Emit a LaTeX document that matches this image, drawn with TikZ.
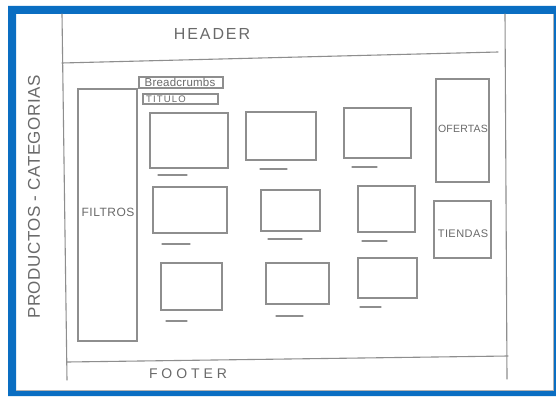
\documentclass[tikz,border=0pt]{standalone}
\usepackage{fontspec}
\newfontfamily\pencilfont{Liberation Sans}
\usetikzlibrary{fit}
\definecolor{frameblue}{HTML}{0A6EC2}
\definecolor{pencilgray}{HTML}{8E8E8E}
\definecolor{leadgray}{HTML}{6A6A6A}
\newcommand\handfont[2]{\pencilfont\fontsize{#1}{#1}\selectfont\addfontfeature{LetterSpace=#2}}

\begin{document}
\begin{tikzpicture}[
  x=1pt, y=-1pt,
  pencil/.style={draw=pencilgray, line width=1.1pt, line cap=round},
  panel/.style={pencil, rectangle, inner sep=0pt},
  thumb/.style={panel},
  hand/.style={text=leadgray, inner sep=0pt}
]
\useasboundingbox (0,0) rectangle (556,396);
\fill[white] (0,0) rectangle (556,396);

% blue frame
\fill[frameblue, even odd rule] (8,6) rectangle (556,396) (16,14) rectangle (553,391);
\draw[black!30, line width=0.8pt] (553,14) -- (553,390.6) -- (16,390.6);

% page outline
\draw[pencil] (62,14) -- (67,380);
\draw[pencil] (505,14) -- (507,379);
\draw[pencil] (62,63) -- (498,52);
\draw[pencil] (67,362) -- (508,356);

\node[hand, font=\handfont{16}{12}] (header) at (212,34) {HEADER};
\node[hand, font=\handfont{14}{28}] (footer) at (188,374) {FOOTER};
\node[hand, font=\handfont{17}{3}, rotate=90] (categorias) at (34,197) {PRODUCTOS - CATEGORIAS};

% side panels
\node[panel, fit={(78,89) (137,341)}] (filtros) {};
\node[panel, fit={(436,79) (489,182)}] (ofertas) {};
\node[panel, fit={(434,201) (491,258)}] (tiendas) {};
\node[hand, font=\handfont{12}{4}] (filtros-txt) at (108,212) {FILTROS};
\node[hand, font=\handfont{10.5}{2}] (ofertas-txt) at (463,129) {OFERTAS};
\node[hand, font=\handfont{11}{4}] (tiendas-txt) at (463,234) {TIENDAS};

% breadcrumbs and title
\node[panel, fit={(139,77) (223,88)}] (breadcrumbs) {};
\node[panel, fit={(143,94) (218,104)}] (titulo) {};
\node[hand, font=\handfont{11.5}{2}] (breadcrumbs-txt) at (180,82.5) {Breadcrumbs};
\node[hand, font=\handfont{9.5}{12}, anchor=west] (titulo-txt) at (146,99) {TITULO};

% product thumbnails
\foreach \n/\xa/\ya/\xb/\yb/\ua/\ub/\uy in {
  a/150/113/228/168/158/187/175, b/246/112/316/160/260/287/169, c/344/108/411/158/352/377/167,
  d/153/187/227/233/162/190/244, e/261/190/320/231/268/302/239, f/358/186/415/232/362/387/241,
  g/161/263/222/310/166/187/321, h/266/263/329/304/276/303/316, i/358/258/417/298/360/381/307}{
  \node[thumb, fit={(\xa,\ya) (\xb,\yb)}] (thumb-\n) {};
  \draw[pencil] (\ua,\uy) -- (\ub,\uy);
}

\end{tikzpicture}
\end{document}
